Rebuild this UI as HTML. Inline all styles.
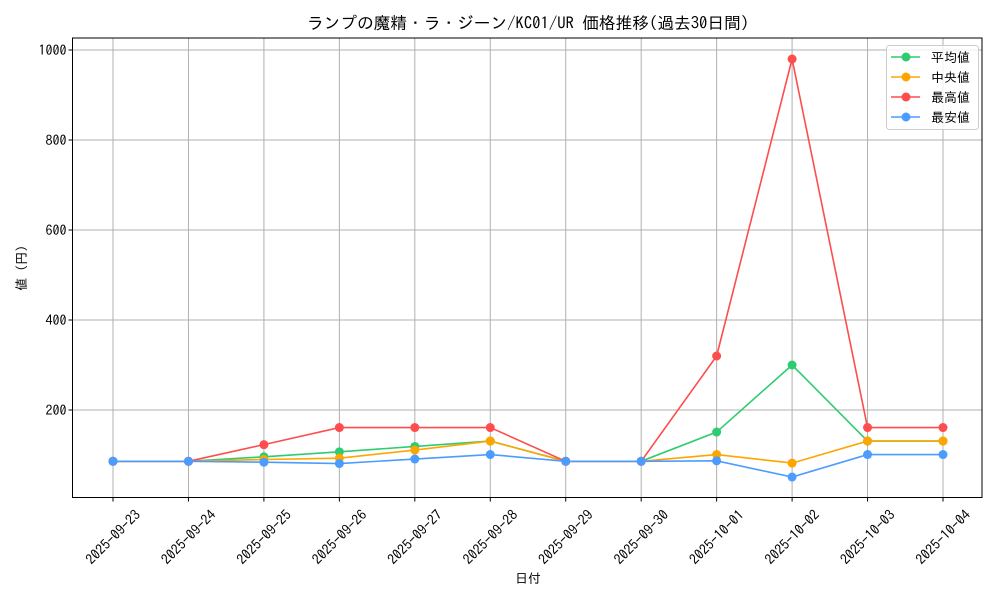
<!DOCTYPE html>
<html><head><meta charset="utf-8"><style>
body{margin:0;background:#fff;}
svg text{font-family:"IPAGothic","Liberation Sans",sans-serif;fill:#000;}
</style></head><body>
<svg id="c" width="1000" height="600" xmlns="http://www.w3.org/2000/svg"></svg>
<script>
const categories=["2025-09-23","2025-09-24","2025-09-25","2025-09-26","2025-09-27","2025-09-28","2025-09-29","2025-09-30","2025-10-01","2025-10-02","2025-10-03","2025-10-04"];
const avgValues=[86,86,96,107,119,131,86,86,151,300,131,131];
const medianValues=[86,86,90,93,111,131,86,86,101,82,131,131];
const maxValues=[86,86,123,161,161,161,86,86,320,980,161,161];
const minValues=[86,86,84,81,91,101,86,86,87,51,101,101];
const yTicks=[200,400,600,800,1000];
const seriesNames=["平均値","中央値","最高値","最安値"];
const seriesColors=["#2ecc71","#ffa500","#ff4c4c","#4c9cff"];
const NS="http://www.w3.org/2000/svg";
const svg=document.getElementById('c');
const L=72.5,R=982,T=38,B=497.5;
function x(i){return 113+i*(943-113)/(categories.length-1);}
function y(v){return 500-0.45*v;}
function el(t,a,p){const e=document.createElementNS(NS,t);for(const k in a)e.setAttribute(k,a[k]);(p||svg).appendChild(e);return e;}
categories.forEach((c,i)=>{
 const g=el('line',{x1:x(i),x2:x(i),y1:T,y2:B,stroke:'#b0b0b0','stroke-width':1});
 
 
 el('line',{x1:x(i),x2:x(i),y1:B,y2:B+4,stroke:'#000'});
 const cx=x(i),cy=537;
 const t=el('text',{x:cx,y:cy+5,'font-size':14,'text-anchor':'middle',transform:`rotate(-45 ${cx} ${cy})`});
 t.textContent=c;
 
 
});
yTicks.forEach(v=>{
 const g=el('line',{x1:L,x2:R,y1:y(v),y2:y(v),stroke:'#b0b0b0','stroke-width':1});
 
 
 el('line',{x1:L-4,x2:L,y1:y(v),y2:y(v),stroke:'#000'});
 const t=el('text',{x:L-6,y:y(v)+5,'font-size':14,'text-anchor':'end'});
 t.textContent=v;
 
 
});
const fr=el('rect',{x:L,y:T,width:R-L,height:B-T,fill:'none',stroke:'#000','stroke-width':1});


[avgValues,medianValues,maxValues,minValues].forEach((vals,s)=>{
 const pl=el('polyline',{points:vals.map((v,i)=>x(i)+','+y(v)).join(' '),fill:'none',stroke:seriesColors[s],'stroke-width':1.6});
 
 
 vals.forEach((v,i)=>{
  const c=el('circle',{cx:x(i),cy:y(v),r:4.5,fill:seriesColors[s]});
  
  
 });
});
const tt=el('text',{x:528,y:29,'font-size':16.7,'text-anchor':'middle'});
tt.textContent='ランプの魔精・ラ・ジーン/KC01/UR 価格推移(過去30日間)';


const xt=el('text',{x:528,y:583,'font-size':13,'text-anchor':'middle'});
xt.textContent='日付';


const yt=el('text',{x:26,y:268,'font-size':13,'text-anchor':'middle',transform:'rotate(-90 26 268)'});
yt.textContent='値 (円)';


const lg=el('g',{});


el('rect',{x:886.5,y:45.5,width:92,height:84,rx:3,fill:'#fff','fill-opacity':0.8,stroke:'#ccc'},lg);
seriesNames.forEach((n,s)=>{
 const yy=57+s*20;
 const e=el('g',{},lg);
 
 
 el('line',{x1:891,x2:920,y1:yy,y2:yy,stroke:seriesColors[s],'stroke-width':1.6},e);
 el('circle',{cx:906,cy:yy,r:4.5,fill:seriesColors[s]},e);
 const t=el('text',{x:931,y:yy+5,'font-size':13},e);
 t.textContent=n;
});
</script>
</body></html>
